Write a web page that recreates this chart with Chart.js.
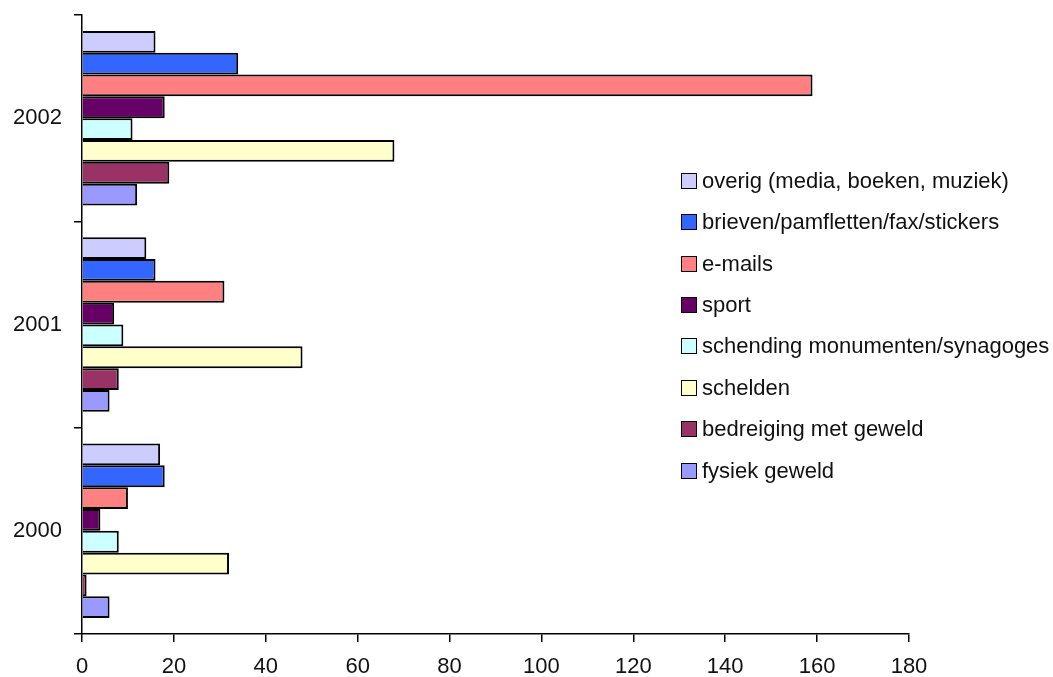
<!DOCTYPE html>
<html>
<head>
<meta charset="utf-8">
<script src="https://cdn.jsdelivr.net/npm/chart.js@4"></script>
<style>
  html, body { margin: 0; padding: 0; background: #fff; }
  #wrap { position: relative; width: 1053px; height: 677px; }
  #legend { position: absolute; left: 0; top: 0; width: 1053px; height: 677px; pointer-events: none; }
  .li { position: absolute; left: 681px; height: 24px; display: flex; align-items: center;
        font-family: "Liberation Sans", Arial, sans-serif; font-size: 22px; color: #111; white-space: nowrap; }
  .sw { width: 14px; height: 14px; border: 1.5px solid #000; margin-right: 5px; flex: none; }
</style>
</head>
<body>
<div id="wrap">
  <canvas id="c" width="1053" height="677"></canvas>
  <div id="legend"></div>
</div>
<script>
const categories = ['2002', '2001', '2000'];
const seriesNames = [
  'overig (media, boeken, muziek)',
  'brieven/pamfletten/fax/stickers',
  'e-mails',
  'sport',
  'schending monumenten/synagoges',
  'schelden',
  'bedreiging met geweld',
  'fysiek geweld'
];
// values per series, in category order 2002, 2001, 2000
const overig     = [16, 14, 17];
const brieven    = [34, 16, 18];
const emails     = [159, 31, 10];
const sport      = [18, 7, 4];
const schending  = [11, 9, 8];
const schelden   = [68, 48, 32];
const bedreiging = [19, 8, 1];
const fysiek     = [12, 6, 6];
const xTicks = [0, 20, 40, 60, 80, 100, 120, 140, 160, 180];

const seriesValues = [overig, brieven, emails, sport, schending, schelden, bedreiging, fysiek];
const colors = ['#CCCCFF', '#3366FF', '#FF8080', '#660066', '#CCFFFF', '#FFFFCC', '#993366', '#9999FF'];

const FONT = { family: '"Liberation Sans", Arial, sans-serif', size: 22 };

const datasets = seriesNames.map((name, i) => ({
  label: name,
  data: seriesValues[i],
  backgroundColor: colors[i],
  borderColor: '#000',
  borderWidth: 2,
  categoryPercentage: 0.846,
  barPercentage: 1.0
}));

new Chart(document.getElementById('c'), {
  type: 'bar',
  data: { labels: categories, datasets },
  options: {
    indexAxis: 'y',
    responsive: false,
    animation: false,
    devicePixelRatio: 1,
    layout: { padding: { left: 0, top: 15, right: 144, bottom: 0 } },
    plugins: { legend: { display: false }, tooltip: { enabled: false } },
    scales: {
      x: {
        type: 'linear',
        min: xTicks[0],
        max: xTicks[xTicks.length - 1],
        afterBuildTicks: (s) => { s.ticks = xTicks.map(v => ({ value: v })); },
        afterFit: (s) => { s.height = 43; s.paddingLeft = 0; s.paddingRight = 0; },
        ticks: { font: FONT, color: '#111', padding: 12, maxRotation: 0, autoSkip: false },
        grid: { drawOnChartArea: false, drawTicks: true, tickLength: 8, color: '#000', lineWidth: 1.5 },
        border: { display: true, color: '#000', width: 1.5 }
      },
      y: {
        type: 'category',
        offset: true,
        afterFit: (s) => { s.width = 82; s.paddingTop = 0; s.paddingBottom = 0; },
        ticks: { font: FONT, color: '#111', padding: 12 },
        grid: { offset: true, drawOnChartArea: false, drawTicks: true, tickLength: 8, color: '#000', lineWidth: 1.5 },
        border: { display: true, color: '#000', width: 1.5 }
      }
    }
  }
});

// legend as real HTML text, built from series names and colors
const legend = document.getElementById('legend');
const firstRowCenter = 180.7, rowStep = 41.4;
seriesNames.forEach((name, i) => {
  const d = document.createElement('div');
  d.className = 'li';
  d.style.top = (firstRowCenter + i * rowStep - 12) + 'px';
  const sw = document.createElement('span');
  sw.className = 'sw';
  sw.style.background = colors[i];
  const t = document.createElement('span');
  t.textContent = name;
  d.appendChild(sw);
  d.appendChild(t);
  legend.appendChild(d);
});
</script>
</body>
</html>
